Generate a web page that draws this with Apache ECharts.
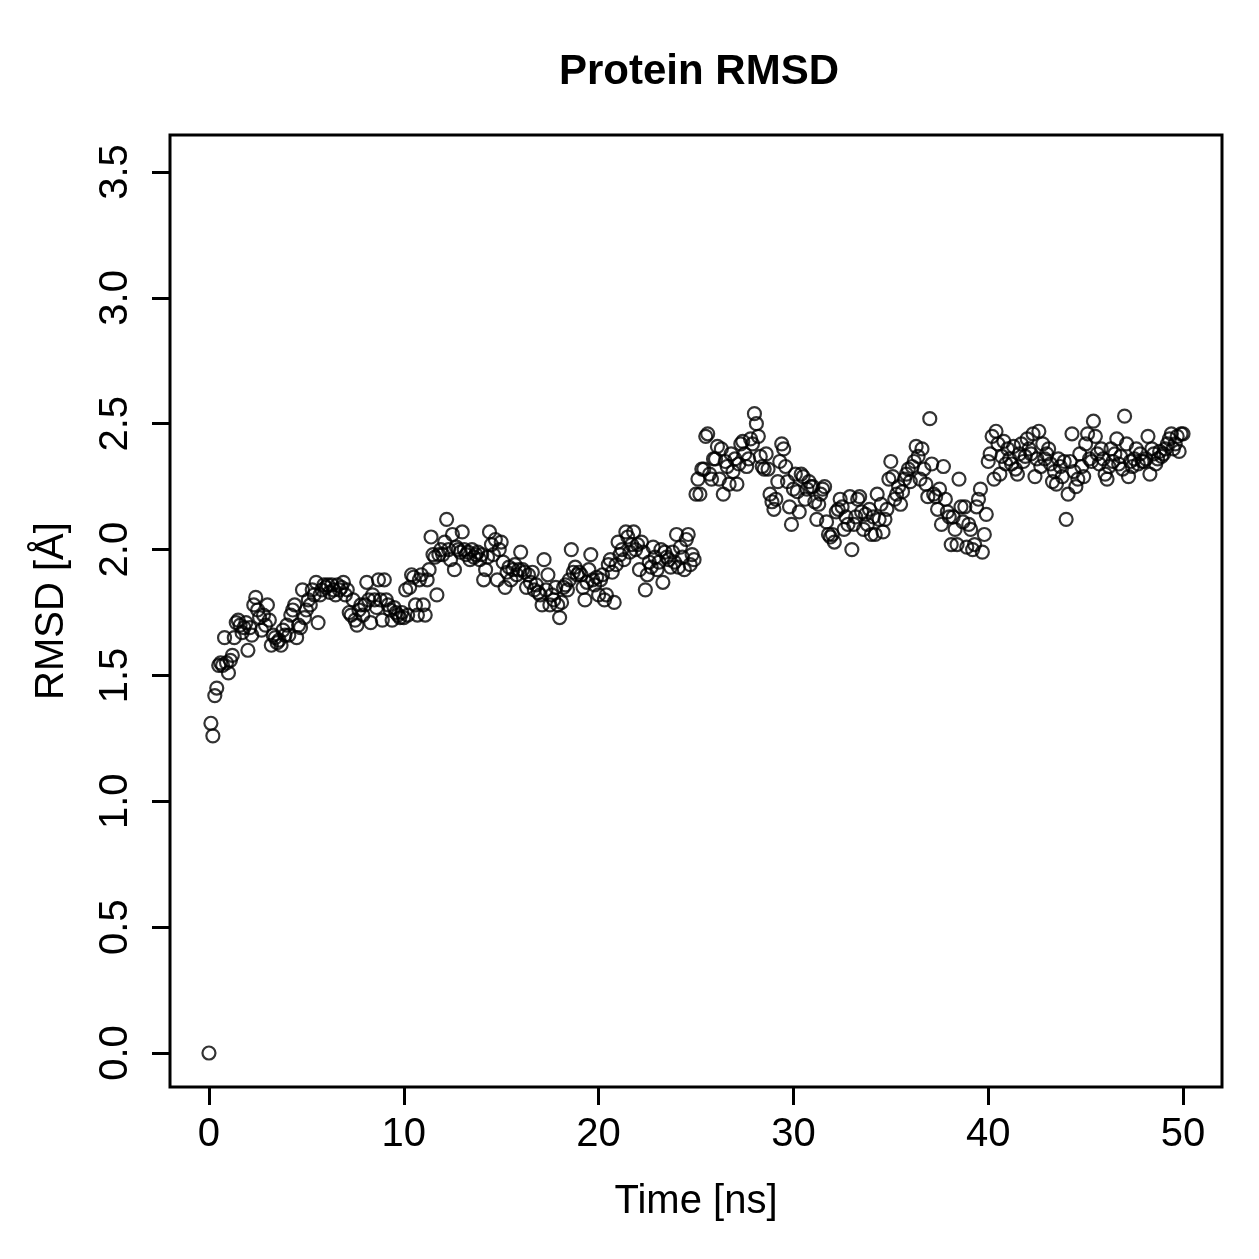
<!DOCTYPE html>
<html>
<head>
<meta charset="utf-8">
<title>Protein RMSD</title>
<script src="https://cdn.jsdelivr.net/npm/echarts@6/dist/echarts.min.js"></script>
<style>
  html, body { margin: 0; padding: 0; background: #fff; }
  #chart { width: 1259px; height: 1259px; }
</style>
</head>
<body>
<div id="chart"></div>
<script>
// sampling interval of the trajectory (ns)
var timeStep = 0.1;

// RMSD values (Å), one row per ns
var rmsd = [
  0.00, 1.31, 1.26, 1.42, 1.45, 1.54, 1.55, 1.54, 1.65, 1.55,
  1.51, 1.56, 1.58, 1.65, 1.71, 1.72, 1.70, 1.67, 1.69, 1.71,
  1.60, 1.69, 1.66, 1.78, 1.81, 1.76, 1.73, 1.68, 1.74, 1.70,
  1.78, 1.72, 1.62, 1.66, 1.65, 1.63, 1.64, 1.62, 1.68, 1.66,
  1.70, 1.66, 1.74, 1.76, 1.78, 1.65, 1.70, 1.69, 1.84, 1.73,
  1.76, 1.80, 1.78, 1.84, 1.82, 1.87, 1.71, 1.82, 1.84, 1.86,
  1.85, 1.86, 1.83, 1.86, 1.84, 1.82, 1.86, 1.84, 1.85, 1.87,
  1.82, 1.84, 1.75, 1.74, 1.80, 1.72, 1.70, 1.76, 1.78, 1.74,
  1.78, 1.87, 1.80, 1.71, 1.82, 1.80, 1.77, 1.88, 1.80, 1.72,
  1.88, 1.80, 1.78, 1.76, 1.72, 1.77, 1.75, 1.74, 1.73, 1.75,
  1.73, 1.84, 1.74, 1.85, 1.90, 1.89, 1.78, 1.74, 1.88, 1.90,
  1.78, 1.74, 1.88, 1.92, 2.05, 1.98, 1.97, 1.82, 1.98, 2.00,
  1.98, 2.03, 2.12, 2.00, 1.96, 2.06, 1.92, 2.01, 2.00, 1.99,
  2.07, 2.00, 1.98, 1.99, 1.96, 2.00, 1.97, 1.98, 1.99, 1.96,
  1.98, 1.88, 1.92, 1.97, 2.07, 2.02, 1.98, 2.04, 1.88, 2.00,
  2.03, 1.95, 1.85, 1.91, 1.93, 1.88, 1.92, 1.94, 1.90, 1.92,
  1.99, 1.92, 1.91, 1.85, 1.90, 1.87, 1.91, 1.84, 1.86, 1.83,
  1.82, 1.78, 1.96, 1.84, 1.90, 1.78, 1.82, 1.80, 1.85, 1.78,
  1.73, 1.79, 1.85, 1.86, 1.84, 1.88, 2.00, 1.91, 1.93, 1.90,
  1.91, 1.90, 1.85, 1.80, 1.87, 1.92, 1.98, 1.88, 1.86, 1.89,
  1.82, 1.88, 1.90, 1.80, 1.82, 1.94, 1.96, 1.91, 1.79, 1.94,
  2.03, 1.98, 2.00, 1.96, 2.07, 2.05, 1.99, 2.02, 2.07, 2.00,
  2.02, 1.92, 2.03, 1.99, 1.84, 1.90, 1.95, 1.93, 2.01, 1.97,
  1.92, 1.95, 2.00, 1.87, 1.99, 1.97, 1.96, 1.93, 1.99, 1.95,
  2.06, 1.93, 2.01, 1.97, 1.92, 2.04, 2.06, 1.94, 1.98, 1.96,
  2.22, 2.28, 2.22, 2.32, 2.32, 2.45, 2.46, 2.30, 2.28, 2.36,
  2.36, 2.41, 2.28, 2.40, 2.22, 2.35, 2.33, 2.26, 2.38, 2.31,
  2.36, 2.26, 2.34, 2.42, 2.43, 2.38, 2.33, 2.36, 2.44, 2.42,
  2.54, 2.50, 2.45, 2.37, 2.33, 2.32, 2.38, 2.32, 2.22, 2.19,
  2.16, 2.20, 2.27, 2.35, 2.42, 2.40, 2.33, 2.27, 2.17, 2.10,
  2.24, 2.30, 2.23, 2.15, 2.30, 2.29, 2.20, 2.24, 2.27, 2.25,
  2.25, 2.19, 2.12, 2.18, 2.22, 2.24, 2.25, 2.11, 2.06, 2.05,
  2.06, 2.03, 2.15, 2.16, 2.20, 2.17, 2.08, 2.13, 2.10, 2.21,
  2.00, 2.10, 2.13, 2.20, 2.21, 2.15, 2.08, 2.14, 2.10, 2.16,
  2.06, 2.13, 2.06, 2.22, 2.12, 2.18, 2.07, 2.12, 2.16, 2.28,
  2.35, 2.29, 2.20, 2.22, 2.25, 2.18, 2.23, 2.28, 2.30, 2.32,
  2.27, 2.33, 2.35, 2.41, 2.37, 2.28, 2.40, 2.32, 2.26, 2.21,
  2.52, 2.34, 2.22, 2.21, 2.16, 2.24, 2.10, 2.33, 2.20, 2.15,
  2.13, 2.02, 2.13, 2.08, 2.02, 2.28, 2.17, 2.11, 2.17, 2.01,
  2.10, 2.08, 2.00, 2.02, 2.17, 2.20, 2.24, 1.99, 2.06, 2.14,
  2.35, 2.38, 2.45, 2.28, 2.47, 2.42, 2.30, 2.37, 2.43, 2.34,
  2.40, 2.36, 2.34, 2.41, 2.32, 2.30, 2.38, 2.42, 2.35, 2.37,
  2.44, 2.40, 2.38, 2.46, 2.29, 2.36, 2.47, 2.33, 2.42, 2.36,
  2.38, 2.40, 2.34, 2.27, 2.31, 2.26, 2.36, 2.33, 2.29, 2.35,
  2.12, 2.22, 2.35, 2.46, 2.31, 2.25, 2.28, 2.38, 2.33, 2.29,
  2.42, 2.46, 2.36, 2.35, 2.51, 2.45, 2.38, 2.34, 2.40, 2.36,
  2.30, 2.28, 2.33, 2.40, 2.35, 2.38, 2.44, 2.34, 2.37, 2.32,
  2.53, 2.42, 2.29, 2.35, 2.33, 2.36, 2.40, 2.34, 2.38, 2.35,
  2.35, 2.36, 2.45, 2.30, 2.40, 2.38, 2.34, 2.36, 2.39, 2.37,
  2.38, 2.40, 2.42, 2.44, 2.46, 2.40, 2.42, 2.45, 2.39, 2.46,
  2.46
];

var xTicks = [0, 10, 20, 30, 40, 50];
var yTicks = [0, 0.5, 1, 1.5, 2, 2.5, 3, 3.5];

var points = [];
for (var i = 0; i < rmsd.length; i++) {
  points.push([+(i * timeStep).toFixed(1), rmsd[i]]);
}

var font = 'Liberation Sans, Arial, Helvetica, sans-serif';

var option = {
  animation: false,
  backgroundColor: '#fff',
  title: {
    text: 'Protein RMSD',
    left: 694,
    top: 46,
    textAlign: 'center',
    textStyle: { fontFamily: font, fontSize: 42, fontWeight: 'bold', color: '#000' }
  },
  grid: {
    left: 170, top: 135, width: 1052, height: 952,
    show: true, borderColor: '#000', borderWidth: 3, backgroundColor: 'transparent'
  },
  xAxis: {
    type: 'value',
    min: -2, max: 52,
    name: 'Time [ns]',
    nameLocation: 'middle',
    nameGap: 95,
    nameTextStyle: { fontFamily: font, fontSize: 40, color: '#000' },
    axisLine: { show: false, onZero: false },
    splitLine: { show: false },
    axisTick: {
      show: true, inside: false, length: 18,
      customValues: xTicks,
      lineStyle: { color: '#000', width: 3 }
    },
    axisLabel: {
      show: true, margin: 28,
      customValues: xTicks,
      fontFamily: font, fontSize: 40, color: '#000'
    }
  },
  yAxis: {
    type: 'value',
    min: -0.135, max: 3.647,
    name: 'RMSD [Å]',
    nameLocation: 'middle',
    nameGap: 98,
    nameRotate: 90,
    nameTextStyle: { fontFamily: font, fontSize: 40, color: '#000' },
    axisLine: { show: false, onZero: false },
    splitLine: { show: false },
    axisTick: {
      show: true, inside: false, length: 18,
      customValues: yTicks,
      lineStyle: { color: '#000', width: 3 }
    },
    axisLabel: {
      show: true, margin: 34, rotate: 90,
      customValues: yTicks,
      fontFamily: font, fontSize: 40, color: '#000',
      formatter: function (v) { return v.toFixed(1); }
    }
  },
  series: [{
    type: 'scatter',
    data: points,
    symbol: 'circle',
    symbolSize: 13,
    itemStyle: { color: 'rgba(0,0,0,0)', borderColor: '#000', borderWidth: 2.2 },
    emphasis: { disabled: true }
  }]
};

var myChart = echarts.init(document.getElementById('chart'));
myChart.setOption(option);
</script>
</body>
</html>
